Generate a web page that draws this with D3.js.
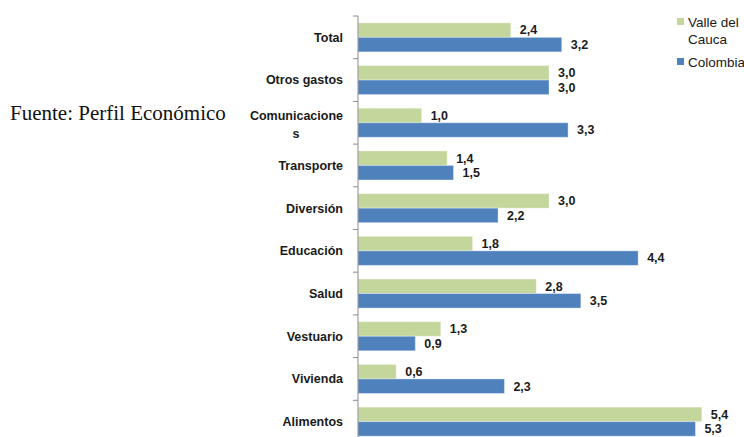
<!DOCTYPE html>
<html>
<head>
<meta charset="utf-8">
<script src="https://cdn.jsdelivr.net/npm/d3@7"></script>
<style>
  body { margin: 0; background: #fff; }
  svg { display: block; }
</style>
</head>
<body>
<svg id="chart"></svg>
<script>
/* data */
const categories = ["Total", "Otros gastos", "Comunicaciones", "Transporte", "Diversión",
  "Educación", "Salud", "Vestuario", "Vivienda", "Alimentos"];
const valle = [2.4, 3.0, 1.0, 1.4, 3.0, 1.8, 2.8, 1.3, 0.6, 5.4];
const colombia = [3.2, 3.0, 3.3, 1.5, 2.2, 4.4, 3.5, 0.9, 2.3, 5.3];
const seriesNames = ["Valle del Cauca", "Colombia"];
const source = "Fuente: Perfil Económico";

/* display parameters */
const width = 744,
  height = 437,
  axis_x = 358,
  top_y = 16,
  step = 42.7,
  colors = ["#c3d69b", "#4f81bd"];

let svg = d3.select("#chart").attr("width", width).attr("height", height);

let y = d3.scaleBand()
  .domain(categories)
  .range([top_y, top_y + step * categories.length])
  .padding(0);

let sub = d3.scaleBand()
  .domain([0, 1])
  .range([0, y.bandwidth()])
  .paddingInner(0)
  .paddingOuter(0.47);

let x = d3.scaleLinear().domain([0, 6]).range([axis_x, 740]);

let rows = categories.map((c, i) => ({ name: c, values: [valle[i], colombia[i]] }));

/* bars */
let groups = svg.append("g")
  .selectAll("g")
  .data(rows)
  .join("g")
  .attr("transform", d => "translate(0," + y(d.name) + ")");

groups.selectAll("rect")
  .data(d => d.values)
  .join("rect")
  .attr("x", x(0))
  .attr("y", (d, i) => sub(i))
  .attr("width", d => x(d) - x(0))
  .attr("height", sub.bandwidth())
  .attr("fill", (d, i) => colors[i])
  .attr("stroke", "#fff")
  .attr("stroke-opacity", 0.35)
  .attr("stroke-width", 1);

groups.selectAll("text.value")
  .data(d => d.values)
  .join("text")
  .attr("class", "value")
  .attr("x", d => x(d) + 9)
  .attr("y", (d, i) => sub(i) + sub.bandwidth() / 2)
  .attr("dy", "0.35em")
  .attr("font-family", "Liberation Sans, Arial, sans-serif")
  .attr("font-weight", "bold")
  .attr("font-size", "12.5px")
  .attr("fill", "#1a1a1a")
  .text(d => d3.format(".1f")(d).replace(".", ","));

/* category axis (ticks at band boundaries) */
let axis = svg.append("g").attr("stroke", "#8c8c8c");
axis.append("line")
  .attr("x1", axis_x).attr("x2", axis_x)
  .attr("y1", y.range()[0]).attr("y2", y.range()[1]);
axis.selectAll("line.tick")
  .data(categories)
  .join("line")
  .attr("class", "tick")
  .attr("x1", axis_x - 5).attr("x2", axis_x)
  .attr("y1", d => y(d)).attr("y2", d => y(d));

let labels = svg.append("g")
  .attr("font-family", "Liberation Sans, Arial, sans-serif")
  .attr("font-weight", "bold")
  .attr("font-size", "12.5px")
  .attr("fill", "#1a1a1a")
  .attr("text-anchor", "end");

labels.selectAll("text")
  .data(categories)
  .join("text")
  .attr("x", 343)
  .attr("y", d => y(d) + y.bandwidth() / 2)
  .each(function(d) {
    let t = d3.select(this);
    if (d === "Comunicaciones") {
      t.append("tspan").attr("x", 343).attr("dy", "-0.2em").text("Comunicacione");
      t.append("tspan").attr("x", 296).attr("text-anchor", "middle").attr("dy", "1.45em").text("s");
    } else {
      t.attr("dy", "0.35em").text(d);
    }
  });

/* legend */
let legend = svg.append("g")
  .attr("font-family", "Liberation Sans, Arial, sans-serif")
  .attr("font-size", "13.5px")
  .attr("fill", "#1a1a1a");

legend.append("rect").attr("x", 677).attr("y", 18).attr("width", 7).attr("height", 7).attr("fill", colors[0]);
legend.append("text").attr("x", 688).attr("y", 27).text("Valle del");
legend.append("text").attr("x", 688).attr("y", 44).text("Cauca");
legend.append("rect").attr("x", 677).attr("y", 58).attr("width", 7).attr("height", 7).attr("fill", colors[1]);
legend.append("text").attr("x", 688).attr("y", 67).text(seriesNames[1]);

/* source note */
svg.append("text")
  .attr("x", 10)
  .attr("y", 120)
  .attr("font-family", "Liberation Serif, Times New Roman, serif")
  .attr("font-size", "21px")
  .attr("fill", "#111")
  .text(source);
</script>
</body>
</html>
